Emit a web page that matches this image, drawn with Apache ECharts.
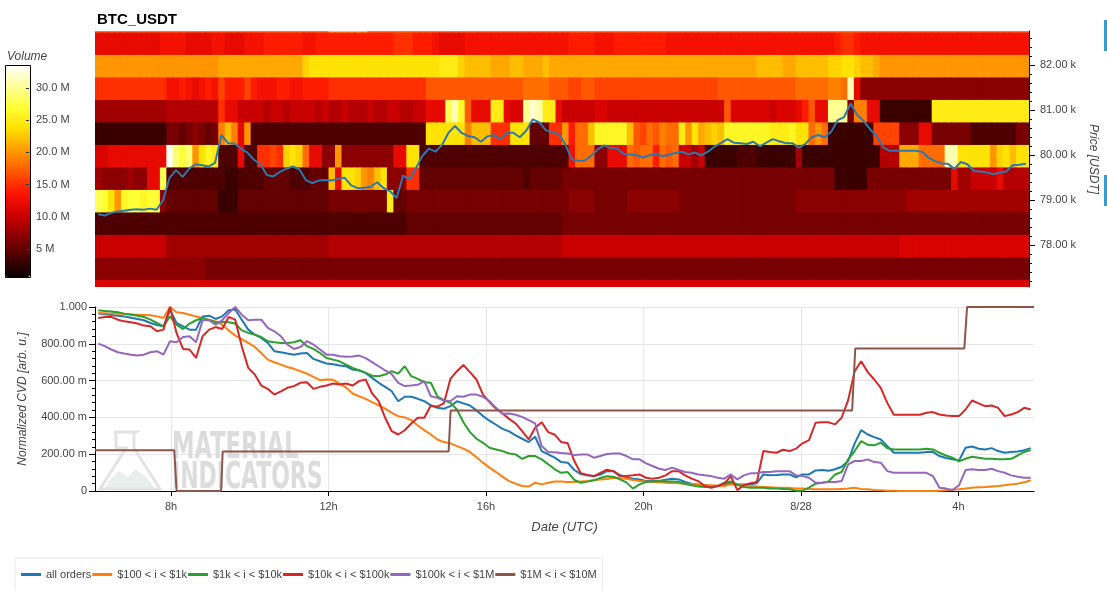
<!DOCTYPE html>
<html><head><meta charset="utf-8">
<script src="https://cdn.jsdelivr.net/npm/echarts@6/dist/echarts.min.js"></script>
<style>html,body{margin:0;padding:0;background:#fff}#c{width:1107px;height:591px}</style>
</head><body><div id="c"></div>
<script>
// ---------- time axis (hours since 8/27 00:00 UTC) ----------
const T0 = 6.067, T1 = 29.92, NB = 144;
const STEP = (T1 - T0) / NB;
const xTickValues = [8, 12, 16, 20, 24, 28];
const xTickLabels = ['8h', '12h', '16h', '20h', '8/28', '4h'];
const priceTicks = [78000, 79000, 80000, 81000, 82000];
const volumeTicks = [5e6, 10e6, 15e6, 20e6, 25e6, 30e6];
const ROW_H = 500; // USDT per heatmap row

// ---------- heatmap volume (millions), one array per price bin (low edge) ----------
const vol82730 = [19,19,19,19,19,19,19,19,19,19,19,19, 19,19,19,19,19,19,19,19,19,19,19,19, 19,19,19,19,19,19,19,19,19,19,19,19, 23,23,23,23,23,23,19,19,19,19,19,19, 19,19,19,19,19,19,19,19,19,19,19,19, 19,19,19,19,19,19,19,19,19,19,19,19, 19,19,19,19,19,19,19,19,19,19,19,19, 19,19,19,19,19,19,19,19,19,19,19,19, 19,19,19,19,19,19,19,19,19,19,19,19, 19,19,19,19,19,19,19,19,19,19,19,19, 19,19,19,19,19,19,19,19,19,19,19,19, 19,19,19,19,19,19,19,19,19,19,19,19];
const vol82230 = [12,12,12,12,12,12,12,12,12,12,13,13, 13,13,12,12,12,12,13,13,12,12,12,13, 13,13,14,14,14,14,14,14,13,13,14,14, 14,14,14,14,14,14,14,14,14,14,15,15, 15,14,14,14,13,12,12,12,12,13,13,13, 13,13,13,13,13,13,13,13,13,13,13,13, 13,14,14,14,14,13,13,13,14,14,14,14, 14,14,14,14,13,13,13,13,13,13,13,13, 13,13,13,13,13,13,13,13,13,13,13,13, 13,13,13,13,13,13,14,15,15,14,13,13, 13,13,13,13,13,13,13,13,13,13,13,13, 13,13,13,13,13,13,13,13,13,13,13,13];
const vol81730 = [20,20,20,20,20,20,20,20,20,20,20,20, 20,20,20,20,20,20,20,21,21,21,21,21, 21,21,21,21,21,21,21,21,23,24,24,24, 24,24,24,24,24,24,24,24,24,24,24,24, 24,24,24,24,24,25,25,25,23,22,22,22, 22,21,21,21,22,22,21,21,21,22,21,21, 21,21,21,21,21,21,21,21,21,21,21,21, 21,21,21,21,21,21,21,21,21,21,21,21, 21,21,21,21,21,21,22,22,22,22,21,21, 22,22,22,22,22,23,23,24,24,23,22,22, 21,20,20,20,20,20,20,20,20,20,20,20, 20,20,20,20,20,20,20,20,20,20,20,20];
const vol81230 = [15,15,15,15,15,15,15,15,15,15,15,13, 13,14,13,12,13,14,13,16,14,14,14,16, 14,13,13,13,14,14,13,13,14,14,14,14, 15,15,15,15,15,15,15,15,15,15,15,15, 15,15,15,17,17,17,17,17,17,17,17,17, 17,17,17,17,17,17,18,18,18,18,17,17, 17,16,16,17,17,16,16,16,16,16,16,16, 16,16,16,16,16,16,16,16,16,16,16,16, 17,17,17,17,17,17,17,17,17,17,17,17, 18,18,18,18,18,19,19,18,31,12,7,7, 7,7,7,7,7,7,7,7,7,7,7,7, 7,7,7,7,7,7,7,7,7,7,7,7];
const vol80730 = [8,8,8,8,8,8,8,8,8,8,8,9, 9,9,9,9,9,9,9,15,12,12,10,10, 10,10,9,10,10,9,10,10,10,10,9,10, 9,9,10,9,9,9,10,9,9,10,10,9, 9,10,10,12,12,12,28,31,26,17,12,12, 12,25,25,12,11,11,30,32,31,25,25,12, 10,10,10,10,10,11,11,10,10,10,10,10, 10,10,10,10,10,10,10,10,10,10,10,10, 10,17,11,11,11,11,11,11,10,11,11,11, 12,14,17,12,12,30,30,30,6,19,19,12, 12,3,3,3,3,3,3,3,3,25,25,25, 25,25,25,25,25,25,25,25,25,25,25,25];
const vol80230 = [3,3,3,3,3,3,3,3,3,3,3,6, 6,5,6,7,6,5,6,19,22,19,12,20, 4,4,4,4,4,4,4,4,4,4,4,4, 4,4,4,4,4,4,4,4,4,4,4,4, 4,4,4,24,24,24,24,24,24,19,22,22, 22,15,15,15,24,24,24,5,5,5,15,15, 20,14,18,18,22,26,26,26,26,26,22,17, 16,18,17,19,18,18,25,20,24,21,22,23, 22,26,26,26,26,26,26,26,25,25,25,26, 24,24,18,20,18,3,3,3,3,3,3,3, 16,16,16,16,7,7,7,12,12,6,6,6, 6,6,6,4,4,4,4,4,4,4,6,6];
const vol79730 = [11,11,12,12,12,12,12,12,12,12,12,33, 29,27,29,20,24,26,25,4,4,4,12,4, 4,15,15,16,15,23,24,23,18,12,12,7, 7,20,7,7,7,7,7,7,7,7,12,12, 24,24,4,4,4,4,4,4,4,4,4,4, 4,4,4,4,4,4,4,4,4,4,4,4, 4,13,18,18,18,7,7,12,12,12,18,17, 18,18,14,18,17,18,10,10,8,10,3,3, 3,3,3,4,4,4,3,3,3,3,3,3, 8,3,3,3,3,3,3,3,3,3,3,3, 3,9,9,9,21,21,21,18,18,18,18,31, 31,24,24,24,24,24,20,23,24,22,24,24];
const vol79230 = [8,7,7,7,7,8,7,7,12,12,28,4, 4,4,4,4,4,4,4,4,3,3,4,4, 4,4,5,5,5,5,4,4,4,5,5,5, 22,12,24,24,23,20,19,22,24,7,7,7, 15,15,5,5,5,5,5,5,5,5,5,5, 5,5,5,5,5,5,4,5,5,5,5,5, 6,6,6,6,6,6,6,6,6,6,6,6, 6,6,6,6,6,6,6,6,6,6,6,6, 6,6,6,6,6,6,6,6,6,6,6,6, 6,6,6,6,6,6,3,3,3,3,3,6, 6,6,6,6,6,6,6,6,6,6,6,6, 12,8,8,10,10,10,10,12,9,9,9,9];
const vol78730 = [28,27,24,20,26,27,27,26,27,27,7,5, 5,5,5,5,5,5,5,3,3,3,5,5, 5,5,5,5,5,5,5,5,5,5,5,5, 6,6,6,6,6,6,6,6,6,25,5,5, 6,6,6,6,6,6,6,6,6,6,6,6, 6,6,6,6,6,6,6,6,6,6,6,6, 6,7,7,7,7,6,6,6,6,6,7,7, 7,7,7,7,7,7,6,6,6,6,6,6, 6,6,6,6,6,6,6,6,6,6,6,6, 7,7,7,7,7,7,7,7,7,7,7,7, 7,7,7,7,7,8,8,8,8,8,8,8, 8,8,8,8,8,8,8,8,8,8,8,8];
const vol78230 = [4,4,4,4,4,4,4,4,4,4,4,4, 4,4,4,4,4,4,4,4,4,4,4,4, 4,4,4,4,4,4,4,4,4,4,4,4, 4,4,4,4,4,4,4,4,4,4,4,4, 5,5,5,5,5,5,5,5,5,5,5,5, 5,5,5,5,5,5,5,5,5,5,5,5, 6,6,6,6,6,6,6,6,6,6,6,6, 6,6,6,6,6,6,6,6,6,6,6,6, 6,6,6,6,6,6,6,6,6,6,6,6, 6,6,6,6,6,6,6,6,6,6,6,6, 6,6,6,6,6,6,6,6,6,6,6,6, 6,6,6,6,6,6,6,6,6,6,6,6];
const vol77730 = [10,10,10,10,10,10,10,10,10,10,10,8, 8,8,8,8,8,8,8,8,8,8,8,8, 8,8,8,8,8,8,8,8,8,8,8,8, 9,9,9,9,9,9,9,9,9,9,9,9, 9,9,9,9,9,9,9,9,9,9,9,9, 9,9,9,9,9,9,9,9,9,9,9,9, 10,10,10,10,10,10,10,10,10,10,10,10, 10,10,10,10,10,10,10,10,10,10,10,10, 10,10,10,10,10,10,10,10,10,10,10,10, 10,10,10,10,10,10,10,10,10,10,10,10, 10,10,10,10,11,11,11,11,11,11,11,11, 11,11,11,11,11,11,11,11,11,11,11,11];
const vol77230 = [7,7,7,7,7,7,7,7,7,7,7,7, 7,7,7,7,7,6,6,6,6,6,6,6, 6,6,6,6,6,6,6,6,6,6,6,6, 6,6,6,6,6,6,6,6,6,6,6,6, 6,6,6,6,6,6,6,6,6,6,6,6, 6,6,6,6,6,6,6,6,6,6,6,6, 6,6,6,6,6,6,6,6,6,6,6,6, 6,6,6,6,6,6,6,6,6,6,6,6, 6,6,6,6,6,6,6,6,6,6,6,6, 6,6,6,6,6,6,6,6,6,6,6,6, 6,6,6,6,6,6,6,6,6,6,6,6, 6,6,6,6,6,6,6,6,6,6,6,6];
const vol76730 = [11,11,11,11,11,11,11,11,11,11,11,11, 11,11,11,11,11,11,11,11,11,11,11,11, 11,11,11,11,11,11,11,11,11,11,11,11, 11,11,11,11,11,11,11,11,11,11,11,11, 11,11,11,11,11,11,11,11,11,11,11,11, 11,11,11,11,11,11,11,11,11,11,11,11, 11,11,11,11,11,11,11,11,11,11,11,11, 11,11,11,11,11,11,11,11,11,11,11,11, 11,11,11,11,11,11,11,11,11,11,11,11, 11,11,11,11,11,11,11,11,11,11,11,11, 11,11,11,11,11,11,11,11,11,11,11,11, 11,11,11,11,11,11,11,11,11,11,11,11];
const rowLows = [82730, 82230, 81730, 81230, 80730, 80230, 79730, 79230, 78730, 78230, 77730, 77230, 76730];
const volRows = [vol82730, vol82230, vol81730, vol81230, vol80730, vol80230, vol79730, vol79230, vol78730, vol78230, vol77730, vol77230, vol76730];

// ---------- BTC price (USDT), one per bin ----------
const price = [78690,78660,78720,78750,78770,78790,78800,78790,78815,78790,79000,79500, 79670,79520,79700,79800,79780,79750,79830,80450,80270,80260,80150,80060, 79900,79800,79560,79530,79630,79700,79750,79690,79450,79380,79440,79450, 79440,79480,79500,79330,79270,79280,79300,79400,79270,79200,79050,79550, 79460,79720,79990,80150,80080,80230,80500,80650,80500,80430,80400,80300, 80420,80450,80360,80500,80500,80400,80550,80800,80730,80560,80510,80470, 80250,79910,79880,79880,79990,80130,80220,80160,80150,80030,80020,80000, 79950,80000,80040,79980,80010,80050,80080,80020,80060,80000,80080,80190, 80270,80360,80280,80270,80250,80300,80200,80280,80360,80310,80270,80270, 80170,80250,80400,80450,80400,80520,80780,80850,81150,80900,80760,80580, 80430,80180,80100,80100,80100,80100,80100,80080,79950,79870,79820,79810, 79700,79850,79800,79650,79640,79620,79580,79620,79640,79780,79790,79810];

// ---------- normalized CVD per order-size bucket ----------
const allOrders = [.964,.960,.957,.953,.949,.942,.935,.928,.913,.902,.895,.986, .913,.895,.877,.877,.949,.953,.935,.949,.982,.986,.931,.877, .850,.832,.805,.760,.754,.747,.741,.747,.750,.718,.705,.693, .689,.682,.678,.660,.655,.642,.615,.588,.566,.542,.488,.512, .512,.501,.488,.465,.452,.447,.461,.488,.476,.465,.438,.407, .382,.360,.338,.324,.302,.284,.266,.295,.217,.199,.181,.157, .154,.114,.092,.085,.081,.089,.108,.108,.087,.074,.067,.063, .054,.054,.054,.061,.067,.063,.049,.040,.034,.031,.027,.027, .034,.045,.036,.036,.036,.042,.090,.085,.087,.090,.090,.074, .090,.090,.112,.114,.110,.118,.132,.163,.259,.331,.307,.293, .280,.244,.208,.208,.208,.208,.208,.212,.213,.190,.179,.172, .165,.235,.242,.230,.226,.233,.217,.208,.212,.215,.222,.233];
const cvd100to1k = [.967,.966,.964,.964,.962,.960,.958,.957,.955,.949,.940,1.0, .971,.967,.958,.949,.940,.931,.922,.904,.873,.845,.826,.805, .783,.750,.714,.700,.687,.674,.664,.651,.638,.620,.602,.606, .604,.584,.562,.530,.515,.501,.483,.465,.448,.425,.407,.400, .385,.356,.331,.307,.280,.266,.259,.244,.230,.212,.183,.154, .127,.103,.078,.054,.040,.027,.024,.045,.036,.045,.052,.052, .049,.049,.051,.054,.058,.063,.065,.072,.069,.067,.060,.054, .051,.049,.047,.045,.043,.042,.040,.038,.036,.033,.031,.029, .027,.036,.033,.031,.027,.024,.022,.020,.018,.018,.017,.013, .013,.011,.009,.009,.009,.009,.011,.013,.018,.011,.009,.005, .004,.002,.002,0,0,0,0,0,0,.002,.004,.007, .009,.013,.018,.020,.022,.025,.027,.031,.036,.040,.047,.058];
const cvd1kto10k = [.982,.978,.976,.971,.964,.958,.953,.946,.931,.913,.895,.949, .904,.880,.910,.928,.940,.928,.917,.920,.917,.910,.873,.859, .850,.837,.814,.808,.805,.805,.808,.819,.787,.772,.750,.723, .714,.705,.687,.669,.656,.642,.627,.624,.633,.651,.638,.678, .624,.609,.591,.588,.515,.494,.479,.443,.374,.320,.284,.262, .235,.226,.217,.204,.199,.175,.190,.190,.172,.145,.118,.099, .103,.060,.045,.051,.058,.071,.080,.078,.063,.047,.013,.036, .049,.051,.054,.051,.052,.049,.038,.031,.024,.022,.022,.027, .045,.052,.034,.022,.018,.018,.018,.014,.013,.011,.009,.002, .002,.018,.040,.045,.052,.090,.103,.172,.217,.271,.251,.248, .262,.233,.226,.226,.226,.226,.226,.230,.226,.208,.193,.181, .161,.175,.186,.181,.175,.175,.172,.172,.175,.193,.212,.222];
const cvd10kto100k = [.940,.946,.946,.931,.922,.917,.910,.899,.895,.868,.877,1.0, .859,.772,.769,.723,.841,.877,.891,.880,.946,.931,.787,.669, .633,.573,.555,.524,.542,.561,.570,.588,.591,.555,.566,.573, .584,.579,.584,.573,.597,.606,.530,.488,.398,.325,.307,.330, .367,.398,.398,.465,.458,.476,.609,.651,.685,.646,.606,.524, .483,.447,.421,.392,.367,.325,.280,.344,.374,.320,.306,.266, .259,.163,.096,.087,.080,.099,.116,.108,.081,.081,.085,.090, .072,.067,.072,.085,.108,.108,.085,.067,.054,.027,.018,.027, .040,.081,.005,.031,.042,.049,.217,.212,.208,.224,.217,.230, .259,.277,.371,.373,.373,.362,.398,.494,.651,.705,.646,.606, .561,.479,.414,.414,.414,.414,.414,.425,.429,.416,.410,.407, .407,.443,.492,.476,.461,.465,.452,.407,.416,.429,.452,.443];
const cvd100kto1m = [.801,.787,.769,.754,.747,.741,.736,.741,.754,.760,.741,.814, .808,.837,.841,.808,.928,.928,.904,.928,.967,1.0,.958,.928, .931,.931,.886,.868,.841,.796,.772,.783,.814,.796,.769,.741, .740,.732,.729,.731,.736,.722,.700,.678,.655,.635,.588,.570, .573,.577,.597,.515,.506,.492,.488,.515,.512,.524,.524,.512, .488,.452,.420,.421,.414,.403,.385,.367,.244,.212,.210,.206, .204,.195,.199,.199,.181,.190,.201,.204,.204,.190,.172,.172, .150,.136,.121,.114,.127,.114,.103,.099,.090,.085,.081,.072, .067,.090,.063,.085,.096,.096,.103,.103,.107,.108,.108,.085, .081,.072,.045,.045,.049,.049,.054,.145,.163,.163,.172,.157, .154,.108,.099,.099,.099,.099,.099,.099,.081,.018,.013,.005, .031,.114,.118,.114,.114,.121,.108,.099,.085,.078,.072,.072];
// $1M < i < $10M is a step series: [hour, value] corner points
const cvd1mto10m = [[6.067,.222],[8.08,.222],[8.14,0],[9.27,0],[9.31,.215],[15.05,.215],[15.10,.438],[25.30,.438],[25.38,.775],[28.15,.775],[28.22,1.0],[29.92,1.0]];

const seriesNames = ['all orders', '$100 < i < $1k', '$1k < i < $10k', '$10k < i < $100k', '$100k < i < $1M', '$1M < i < $10M'];
const seriesColors = ['#1f77b4', '#ff7f0e', '#2ca02c', '#d62728', '#9467bd', '#8c564b'];

// ---------- build ----------
const atCenter = arr => arr.map((v, j) => [T0 + (j + 0.5) * STEP, v]);
const heatData = [];
volRows.forEach((row, r) => row.forEach((v, j) => heatData.push([T0 + j * STEP, rowLows[r], v * 1e6])));
const minorPriceTicks = [];
for (let p = 77200; p <= 82600; p += 200) if (p % 1000 !== 0) minorPriceTicks.push(p);

const chart = echarts.init(document.getElementById('c'), null, {renderer: 'canvas'});
const FONT = 'Arial, "Liberation Sans", sans-serif';
const LBL = {color: '#444', fontSize: 11, fontFamily: FONT};
const NAME = {color: '#444', fontSize: 12, fontStyle: 'italic', fontFamily: FONT};

function renderCell(params, api) {
  const t = api.value(0), lo = api.value(1);
  const a = api.coord([t, lo + ROW_H]);
  const b = api.coord([t + STEP, lo]);
  const cs = params.coordSys;
  const rect = echarts.graphic.clipRectByRect(
    {x: a[0], y: a[1], width: b[0] - a[0] + 0.8, height: b[1] - a[1] + 0.8},
    {x: cs.x, y: cs.y, width: cs.width, height: cs.height});
  return rect && {type: 'rect', shape: rect, style: {fill: api.visual('color')}};
}

const lineSeries = [allOrders, cvd100to1k, cvd1kto10k, cvd10kto100k, cvd100kto1m].map((arr, i) => ({
  name: seriesNames[i], type: 'line', xAxisIndex: 1, yAxisIndex: 2,
  data: atCenter(arr), showSymbol: false, symbol: 'none',
  lineStyle: {width: 2, color: seriesColors[i]}, itemStyle: {color: seriesColors[i]}, z: 3
}));
lineSeries.push({
  name: seriesNames[5], type: 'line', xAxisIndex: 1, yAxisIndex: 2,
  data: cvd1mto10m, showSymbol: false, symbol: 'none',
  lineStyle: {width: 2, color: seriesColors[5]}, itemStyle: {color: seriesColors[5]}, z: 3
});

const option = {
  animation: false,
  textStyle: {fontFamily: FONT},
  title: {text: 'BTC_USDT', left: 92, top: 7, textStyle: {fontSize: 15, fontWeight: 'bold', color: '#000', fontFamily: FONT}},
  grid: [
    {left: 95, top: 31, width: 939, height: 256},
    {left: 95, top: 307, width: 939, height: 184},
    {left: 5, top: 65, width: 21, height: 212}
  ],
  xAxis: [
    {gridIndex: 0, type: 'value', min: T0, max: T1, show: false},
    {gridIndex: 1, type: 'value', min: T0, max: T1,
     axisLine: {lineStyle: {color: '#000'}},
     axisTick: {customValues: xTickValues, length: 5, lineStyle: {color: '#000'}},
     axisLabel: Object.assign({customValues: xTickValues, margin: 10,
       formatter: v => xTickLabels[xTickValues.indexOf(v)]}, LBL),
     splitLine: {show: true, lineStyle: {color: '#e6e6e6'}},
     name: 'Date (UTC)', nameLocation: 'middle', nameGap: 30,
     nameTextStyle: Object.assign({}, NAME, {fontSize: 13})},
    {gridIndex: 2, type: 'value', show: false, min: 1, max: 2}
  ],
  yAxis: [
    {gridIndex: 0, type: 'value', min: 77073, max: 82762, position: 'right',
     axisLine: {show: true, onZero: false, lineStyle: {color: '#000'}},
     axisTick: {show: true, customValues: priceTicks, length: 6, lineStyle: {color: '#000'}},
     axisLabel: Object.assign({customValues: priceTicks, margin: 11,
       formatter: v => (v / 1000).toFixed(2) + ' k'}, LBL),
     splitLine: {show: false},
     name: 'Price [USDT]', nameLocation: 'middle', nameRotate: -90, nameGap: 58,
     nameTextStyle: NAME},
    {gridIndex: 0, type: 'value', min: 77073, max: 82762, position: 'right',
     axisLine: {show: false, onZero: false},
     axisTick: {show: true, customValues: minorPriceTicks, length: 3, lineStyle: {color: '#000'}},
     axisLabel: {show: false}, splitLine: {show: false}},
    {gridIndex: 1, type: 'value', min: 0, max: 1, interval: 0.2,
     axisLine: {show: true, onZero: false, lineStyle: {color: '#000'}},
     axisTick: {show: true, length: 6, lineStyle: {color: '#000'}},
     minorTick: {show: true, splitNumber: 5, length: 3, lineStyle: {color: '#000'}},
     axisLabel: Object.assign({margin: 8,
       formatter: v => v === 0 ? '0' : (Math.abs(v - 1) < 1e-9 ? '1.000' : (v * 1000).toFixed(2) + ' m')}, LBL),
     splitLine: {show: true, lineStyle: {color: '#e6e6e6'}},
     name: 'Normalized CVD [arb. u.]', nameLocation: 'middle', nameGap: 66,
     nameTextStyle: NAME},
    {gridIndex: 2, type: 'value', min: 0.65e6, max: 33.57e6, position: 'right', z: 20,
     axisLine: {show: false, onZero: false},
     axisTick: {show: true, inside: false, customValues: volumeTicks, length: 3, lineStyle: {color: '#333'}},
     axisLabel: Object.assign({customValues: volumeTicks, margin: 10,
       formatter: v => v === 5e6 ? '5 M' : (v / 1e6).toFixed(1) + ' M'}, LBL),
     splitLine: {show: false}}
  ],
  visualMap: {
    type: 'continuous', seriesIndex: 0, dimension: 2, z: 2,
    min: 0.65e6, max: 33.57e6, calculable: false, hoverLink: false,
    orient: 'vertical', left: 5, top: 65, itemWidth: 25, itemHeight: 212, padding: 0,
    text: null, showLabel: false,
    inRange: {color: ['#0a0000','#4d0000','#900000','#d30000','#ff1700','#ff5a00','#ff9d00','#ffe000','#ffff36','#ffff9b','#ffffff']}
  },
  legend: {
    data: seriesNames, left: 15, top: 558, orient: 'horizontal',
    icon: 'rect', itemWidth: 20, itemHeight: 3, itemGap: 1,
    padding: [11, 6, 12, 6], borderColor: '#e8e8e8', borderWidth: 1,
    textStyle: {color: '#444', fontSize: 11, fontFamily: FONT}
  },
  graphic: [
    {type: 'text', left: 7, top: 51, style: {text: 'Volume', fill: '#444', font: 'italic 12px ' + FONT}},
    {type: 'rect', shape: {x: 5.5, y: 65.5, width: 25, height: 212}, style: {fill: 'none', stroke: '#000', lineWidth: 1}, z: 100},
    {type: 'rect', shape: {x: 1104, y: 20, width: 3, height: 31}, style: {fill: '#2a9fd8'}},
    {type: 'rect', shape: {x: 1104, y: 175, width: 3, height: 31}, style: {fill: '#2a9fd8'}},
    {type: 'polygon', z: 1, shape: {points: [[104,490],[110,479],[119,471],[128,477],[136,469],[147,478],[156,490]]}, style: {fill: '#e9efed'}},
    {type: 'polyline', z: 1, shape: {points: [[114,432],[136,432],[134,433],[134,448],[160,489],[100,489],[126,448],[116,448],[116,433]]}, style: {stroke: '#e3e3e3', lineWidth: 3, fill: 'none'}},
    {type: 'text', z: 1, x: 172, y: 430, scaleX: 0.68, style: {text: 'MATERIAL', fill: '#dcdcdc', font: 'bold 37px "DejaVu Sans Condensed", "DejaVu Sans", sans-serif'}},
    {type: 'text', z: 1, x: 172, y: 460, scaleX: 0.66, style: {text: 'INDICATORS', fill: '#dcdcdc', font: 'bold 37px "DejaVu Sans Condensed", "DejaVu Sans", sans-serif'}}
  ],
  series: [
    {type: 'custom', name: 'volume', xAxisIndex: 0, yAxisIndex: 0, renderItem: renderCell,
     encode: {x: 0, y: 1}, data: heatData, z: 1, silent: true},
    {type: 'line', name: 'price', xAxisIndex: 0, yAxisIndex: 0, data: atCenter(price),
     showSymbol: false, symbol: 'none', lineStyle: {width: 2, color: '#2c78b0'}, z: 5, silent: true}
  ].concat(lineSeries)
};
chart.setOption(option);
</script>
</body></html>
